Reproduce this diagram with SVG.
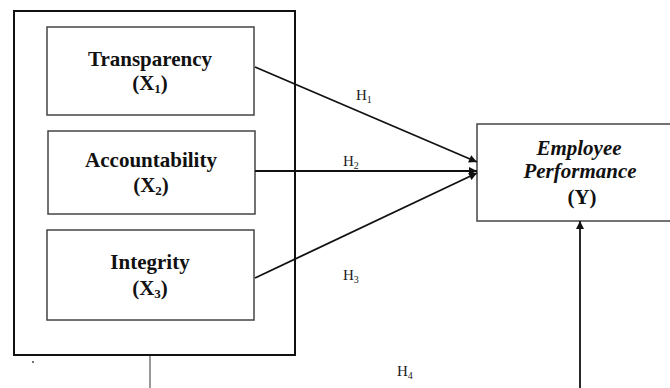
<svg xmlns="http://www.w3.org/2000/svg" width="670" height="388" viewBox="0 0 670 388">
  <style>
    .frame { fill: none; stroke: #111; stroke-width: 2; }
    .box { fill: #fff; stroke: #444; stroke-width: 1.5; }
    .title { font-family: "Liberation Serif", "Times New Roman", serif; font-size: 21px; font-weight: bold; fill: #111; text-anchor: middle; }
    .ital { font-style: italic; }
    .sub { font-size: 13px; }
    .hyp { font-family: "Liberation Serif", "Times New Roman", serif; font-size: 15px; fill: #222; }
    .hsub { font-size: 10px; }
    .link { stroke: #111; stroke-width: 1.8; fill: none; marker-end: url(#head); }
    .thin { stroke: #333; stroke-width: 1; fill: none; }
  </style>
  <defs>
    <marker id="head" viewBox="0 0 10 10" refX="10" refY="5" markerWidth="10" markerHeight="8" markerUnits="userSpaceOnUse" orient="auto">
      <path d="M0,0 L10,5 L0,10 z" fill="#111"/>
    </marker>
  </defs>

  <rect width="670" height="388" fill="#fff"/>

  <!-- independent variables grouped in one frame -->
  <g id="frame">
    <rect class="frame" x="14" y="11" width="281" height="344"/>
    <circle cx="33" cy="362" r="0.9" fill="#333"/>
  </g>

  <g id="transparency">
    <rect class="box" x="47" y="27" width="207" height="88"/>
    <text class="title" x="150" y="66">Transparency</text>
    <text class="title" x="150" y="90">(X<tspan class="sub" dy="3">1</tspan><tspan dy="-3">)</tspan></text>
  </g>

  <g id="accountability">
    <rect class="box" x="48" y="131" width="207" height="83"/>
    <text class="title" x="151" y="167">Accountability</text>
    <text class="title" x="151" y="192">(X<tspan class="sub" dy="3">2</tspan><tspan dy="-3">)</tspan></text>
  </g>

  <g id="integrity">
    <rect class="box" x="47" y="230" width="207" height="90"/>
    <text class="title" x="150" y="269">Integrity</text>
    <text class="title" x="150" y="295">(X<tspan class="sub" dy="3">3</tspan><tspan dy="-3">)</tspan></text>
  </g>

  <g id="performance">
    <rect class="box" x="477" y="124" width="200" height="97"/>
    <text class="title ital" x="579" y="155">Employee</text>
    <text class="title ital" x="580" y="178">Performance</text>
    <text class="title" x="582" y="204">(Y)</text>
  </g>

  <!-- hypothesis paths -->
  <g id="connectors">
    <line class="link" x1="255" y1="67" x2="477" y2="162"/>
    <line class="link" x1="255" y1="171" x2="477" y2="171"/>
    <line class="link" x1="255" y1="278" x2="477" y2="173"/>
    <line class="link" x1="580" y1="388" x2="580" y2="221"/>
    <line class="thin" x1="150" y1="356" x2="150" y2="388"/>
    <text class="hyp" x="356" y="100">H<tspan class="hsub" dy="3">1</tspan></text>
    <text class="hyp" x="343" y="166">H<tspan class="hsub" dy="3">2</tspan></text>
    <text class="hyp" x="343" y="280">H<tspan class="hsub" dy="3">3</tspan></text>
    <text class="hyp" x="397" y="376">H<tspan class="hsub" dy="3">4</tspan></text>
  </g>
</svg>
